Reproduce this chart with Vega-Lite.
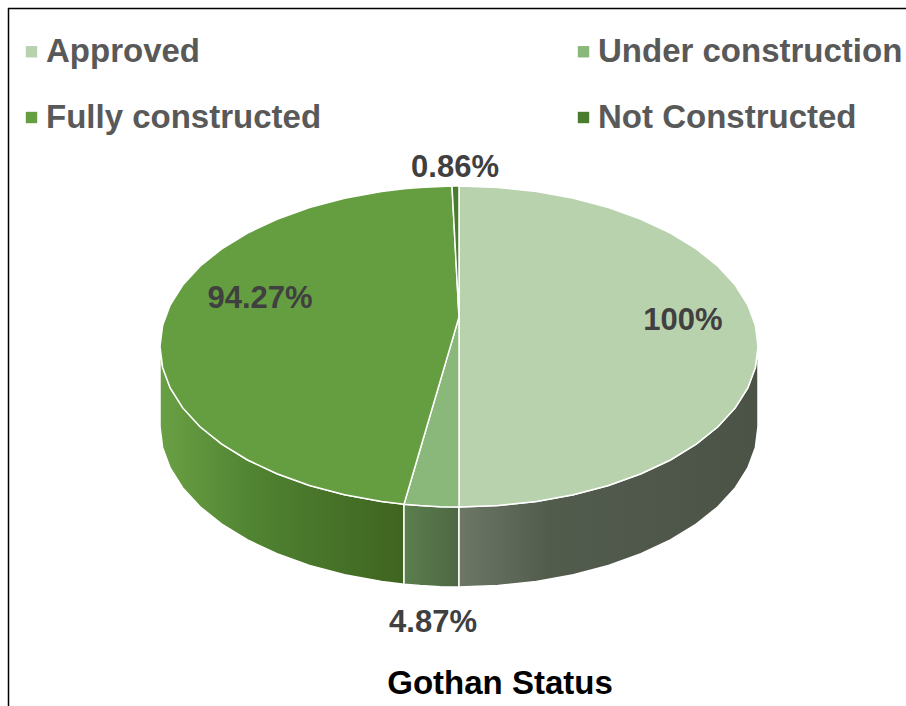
{
"$schema":"https://vega.github.io/schema/vega-lite/v6.json",
"width":906,"height":706,"padding":0,
"autosize":"none",
"background":"white",
"config":{"view":{"stroke":null}},
"datasets":{
"walls":[
{"segment":"Fully constructed","x":160,"y":346.5,"y2":426.5},{"segment":"Fully constructed","x":162.6,"y":367.4,"y2":447.4},{"segment":"Fully constructed","x":170.2,"y":388,"y2":468},{"segment":"Fully constructed","x":182.8,"y":407.9,"y2":487.9},{"segment":"Fully constructed","x":200.1,"y":426.8,"y2":506.8},{"segment":"Fully constructed","x":221.8,"y":444.2,"y2":524.2},{"segment":"Fully constructed","x":247.6,"y":460,"y2":540},{"segment":"Fully constructed","x":277,"y":473.8,"y2":553.8},{"segment":"Fully constructed","x":309.5,"y":485.5,"y2":565.5},{"segment":"Fully constructed","x":344.6,"y":494.8,"y2":574.8},{"segment":"Fully constructed","x":381.6,"y":501.5,"y2":581.5},{"segment":"Fully constructed","x":404,"y":504.3,"y2":584.3},
{"segment":"Under construction","x":404,"y":504.3,"y2":584.3},{"segment":"Under construction","x":420,"y":505.6,"y2":585.6},{"segment":"Under construction","x":440,"y":506.7,"y2":586.7},{"segment":"Under construction","x":459,"y":507,"y2":587},
{"segment":"Approved","x":459,"y":507,"y2":587},{"segment":"Approved","x":498,"y":505.6,"y2":585.6},{"segment":"Approved","x":536.4,"y":501.5,"y2":581.5},{"segment":"Approved","x":573.4,"y":494.8,"y2":574.8},{"segment":"Approved","x":608.5,"y":485.5,"y2":565.5},{"segment":"Approved","x":641,"y":473.8,"y2":553.8},{"segment":"Approved","x":670.4,"y":460,"y2":540},{"segment":"Approved","x":696.2,"y":444.2,"y2":524.2},{"segment":"Approved","x":717.9,"y":426.8,"y2":506.8},{"segment":"Approved","x":735.2,"y":407.9,"y2":487.9},{"segment":"Approved","x":747.8,"y":388,"y2":468},{"segment":"Approved","x":755.4,"y":367.4,"y2":447.4},{"segment":"Approved","x":758,"y":346.5,"y2":426.5}
],
"faces":[
{"segment":"Approved","x":459,"y":186,"y2":507},{"segment":"Approved","x":498,"y":187.4,"y2":505.6},{"segment":"Approved","x":536.4,"y":191.5,"y2":501.5},{"segment":"Approved","x":573.4,"y":198.2,"y2":494.8},{"segment":"Approved","x":608.5,"y":207.5,"y2":485.5},{"segment":"Approved","x":641,"y":219.2,"y2":473.8},{"segment":"Approved","x":670.4,"y":233,"y2":460},{"segment":"Approved","x":696.2,"y":248.8,"y2":444.2},{"segment":"Approved","x":717.9,"y":266.2,"y2":426.8},{"segment":"Approved","x":735.2,"y":285.1,"y2":407.9},{"segment":"Approved","x":747.8,"y":305,"y2":388},{"segment":"Approved","x":755.4,"y":325.6,"y2":367.4},{"segment":"Approved","x":758,"y":346.5,"y2":346.5},
{"segment":"Under construction","x":404,"y":504.3,"y2":504.3},{"segment":"Under construction","x":420,"y":449.8,"y2":505.6},{"segment":"Under construction","x":440,"y":381.7,"y2":506.7},{"segment":"Under construction","x":459,"y":317,"y2":507},
{"segment":"Fully constructed","x":160,"y":346.5,"y2":346.5},{"segment":"Fully constructed","x":162.6,"y":325.6,"y2":367.4},{"segment":"Fully constructed","x":170.2,"y":305,"y2":388},{"segment":"Fully constructed","x":182.8,"y":285.1,"y2":407.9},{"segment":"Fully constructed","x":200.1,"y":266.2,"y2":426.8},{"segment":"Fully constructed","x":221.8,"y":248.8,"y2":444.2},{"segment":"Fully constructed","x":247.6,"y":233,"y2":460},{"segment":"Fully constructed","x":277,"y":219.2,"y2":473.8},{"segment":"Fully constructed","x":309.5,"y":207.5,"y2":485.5},{"segment":"Fully constructed","x":344.6,"y":198.2,"y2":494.8},{"segment":"Fully constructed","x":381.6,"y":191.5,"y2":501.5},{"segment":"Fully constructed","x":404,"y":188.7,"y2":504.3},{"segment":"Fully constructed","x":420,"y":187.4,"y2":449.8},{"segment":"Fully constructed","x":452,"y":186.1,"y2":340.9},{"segment":"Fully constructed","x":459,"y":317,"y2":317},
{"segment":"Not Constructed","x":452,"y":186.1,"y2":186.1},{"segment":"Not Constructed","x":459,"y":186,"y2":317}
],
"labels":[
{"segment":"Approved","value":"100%","x":683,"y":321},
{"segment":"Under construction","value":"4.87%","x":433,"y":623},
{"segment":"Fully constructed","value":"94.27%","x":260,"y":299},
{"segment":"Not Constructed","value":"0.86%","x":455,"y":168}
]
},
"encoding":{
"x":{"field":"x","type":"quantitative","axis":null,"scale":{"domain":[0,906],"nice":false,"zero":false}},
"y":{"field":"y","type":"quantitative","axis":null,"scale":{"domain":[706,0],"nice":false,"zero":false}}
},
"layer":[
{"data":{"name":"walls"},"transform":[{"filter":"datum.segment==='Fully constructed'"}],
"mark":{"type":"area","stroke":"white","strokeWidth":1.5,"fill":{"gradient":"linear","x1":0,"x2":1,"y1":0,"y2":0,"stops":[{"offset":0,"color":"#6aa044"},{"offset":0.4,"color":"#4f8231"},{"offset":1,"color":"#3f6420"}]}},
"encoding":{"y2":{"field":"y2"}}},
{"data":{"name":"walls"},"transform":[{"filter":"datum.segment==='Under construction'"}],
"mark":{"type":"area","stroke":"white","strokeWidth":1.5,"fill":{"gradient":"linear","x1":0,"x2":1,"y1":0,"y2":0,"stops":[{"offset":0,"color":"#5b7f4e"},{"offset":1,"color":"#4e6743"}]}},
"encoding":{"y2":{"field":"y2"}}},
{"data":{"name":"walls"},"transform":[{"filter":"datum.segment==='Approved'"}],
"mark":{"type":"area","stroke":"white","strokeWidth":1.5,"fill":{"gradient":"linear","x1":0,"x2":1,"y1":0,"y2":0,"stops":[{"offset":0,"color":"#6d7766"},{"offset":0.3,"color":"#525c4d"},{"offset":1,"color":"#4b5347"}]}},
"encoding":{"y2":{"field":"y2"}}},
{"data":{"name":"faces"},
"mark":{"type":"area","stroke":"white","strokeWidth":1.5,"opacity":1},
"encoding":{"y2":{"field":"y2"},
"color":{"field":"segment","type":"nominal","sort":["Approved","Under construction","Fully constructed","Not Constructed"],
"scale":{"domain":["Approved","Under construction","Fully constructed","Not Constructed"],"range":["#b9d2ae","#8ab77a","#659e41","#4a7c2f"]},
"legend":{"title":null,"orient":"none","legendX":15,"legendY":35,"direction":"horizontal","columns":2,"columnPadding":245,"rowPadding":32,
"symbolType":"square","symbolSize":130,"symbolStrokeWidth":0,"symbolOpacity":1,"labelFont":"Liberation Sans","labelFontWeight":"bold","labelFontSize":33,"labelColor":"#595959","labelOffset":-2,"labelLimit":400}}}},
{"data":{"name":"labels"},
"mark":{"type":"text","font":"Liberation Sans","fontWeight":"bold","fontSize":31,"color":"#404040","align":"center","baseline":"middle"},
"encoding":{"text":{"field":"value"}}},
{"data":{"values":[{"title":"Gothan Status","x":500,"y":684}]},
"mark":{"type":"text","font":"Liberation Sans","fontWeight":"bold","fontSize":33,"color":"#000000","align":"center","baseline":"middle"},
"encoding":{"text":{"field":"title"}}},
{"data":{"values":[{"x":8,"x2":906,"y":8.5,"y2":8.5},{"x":8.5,"x2":8.5,"y":8,"y2":706}]},
"mark":{"type":"rule","color":"#000000","strokeWidth":1.5},
"encoding":{"x2":{"field":"x2"},"y2":{"field":"y2"}}}
]
}
